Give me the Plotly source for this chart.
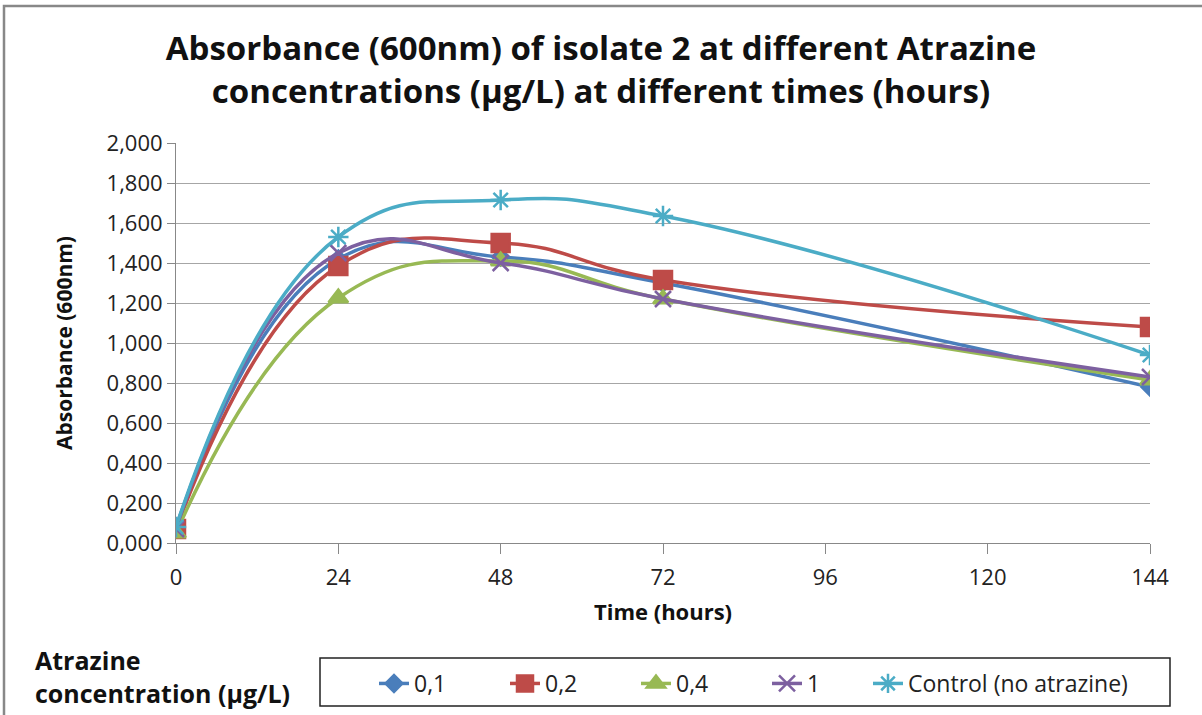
import plotly.graph_objects as go

hours = [0, 24, 48, 72, 144]
series_names = ["0,1", "0,2", "0,4", "1", "Control (no atrazine)"]
abs_01 = [0.08, 1.42, 1.43, 1.30, 0.78]
abs_02 = [0.07, 1.385, 1.50, 1.315, 1.08]
abs_04 = [0.05, 1.225, 1.41, 1.22, 0.815]
abs_1 = [0.07, 1.45, 1.40, 1.22, 0.83]
abs_ctrl = [0.08, 1.53, 1.715, 1.635, 0.94]
y_tickvals = [0, 0.2, 0.4, 0.6, 0.8, 1.0, 1.2, 1.4, 1.6, 1.8, 2.0]
y_ticktext = ["0,000", "0,200", "0,400", "0,600", "0,800", "1,000",
              "1,200", "1,400", "1,600", "1,800", "2,000"]
x_tickvals = [0, 24, 48, 72, 96, 120, 144]

colors = ["#4A7EBB", "#BE4B48", "#98B954", "#7D60A0", "#4BACC6"]
symbols = ["diamond", "square", "triangle-up", "x-thin", "asterisk"]
sizes = [13, 18, 17, 16, 17]
legends = ["legend", "legend", "legend", "legend", "legend2"]
data = [abs_01, abs_02, abs_04, abs_1, abs_ctrl]

FONT = "Open Sans"
W, H = 1202, 715
L, R, T, B = 176, 52, 143, 172
PW, PH = W - L - R, H - T - B


def px_x(px):
    return (px - L) / PW


def px_y(py):
    return (H - B - py) / PH


fig = go.Figure()
for name, ys, c, s, sz, lg in zip(series_names, data, colors, symbols, sizes, legends):
    fig.add_trace(go.Scatter(
        x=hours, y=ys, name=name, mode="lines+markers", legend=lg,
        line=dict(color=c, width=3.5, shape="spline", smoothing=1.3),
        marker=dict(symbol=s, size=sz, color=c, line=dict(color=c, width=2.5)),
    ))

legend_font = dict(family=FONT, size=23, color="#222222")
fig.update_layout(
    width=W, height=H,
    paper_bgcolor="white", plot_bgcolor="white",
    margin=dict(l=L, r=R, t=T, b=B, autoexpand=False),
    font=dict(family=FONT, color="#222222"),
    title=dict(
        text="<b>Absorbance (600nm) of isolate 2 at different Atrazine<br>concentrations (µg/L) at different times (hours)</b>",
        x=0.5, xanchor="center", y=1 - 60 / H, yanchor="middle",
        font=dict(family=FONT, size=33, color="#111111"),
    ),
    xaxis=dict(
        range=[0, 144], tickvals=x_tickvals, ticks="outside", ticklen=10,
        tickcolor="#888888", showline=True, linecolor="#888888", linewidth=1,
        showgrid=False, zeroline=False, ticklabelstandoff=5,
        tickfont=dict(family=FONT, size=22, color="#222222"),
        title=dict(text="<b>Time (hours)</b>", font=dict(family=FONT, size=22, color="#111111"), standoff=14),
    ),
    yaxis=dict(
        range=[0, 2.0], tickvals=y_tickvals, ticktext=y_ticktext,
        ticks="outside", ticklen=8, tickcolor="#888888",
        showline=True, linecolor="#888888", linewidth=1,
        showgrid=True, gridcolor="#A6A6A6", gridwidth=1, zeroline=False,
        tickfont=dict(family=FONT, size=22, color="#222222"),
        title=dict(text="<b>Absorbance (600nm)</b>", font=dict(family=FONT, size=21, color="#111111"), standoff=28),
    ),
    showlegend=True,
    legend=dict(
        orientation="h", x=px_x(374), y=px_y(662), xanchor="left", yanchor="top",
        borderwidth=0, bgcolor="rgba(0,0,0,0)", font=legend_font,
        entrywidth=86, entrywidthmode="pixels", tracegroupgap=0,
    ),
    legend2=dict(
        orientation="h", x=px_x(868), y=px_y(662), xanchor="left", yanchor="top",
        borderwidth=0, bgcolor="rgba(0,0,0,0)", font=legend_font,
    ),
)

# legend frame
fig.add_shape(type="rect", xref="paper", yref="paper",
              x0=px_x(320), x1=px_x(1170), y0=px_y(658), y1=px_y(706),
              line=dict(color="#222222", width=1.5), fillcolor="rgba(0,0,0,0)", layer="below")
# outer chart frame (left & top visible)
fig.add_shape(type="rect", xref="paper", yref="paper",
              x0=px_x(4), x1=px_x(1220), y0=px_y(730), y1=px_y(6),
              line=dict(color="#888888", width=2.5), fillcolor="rgba(0,0,0,0)", layer="below")

fig.add_annotation(
    xref="paper", yref="paper", x=px_x(33), y=px_y(641), xanchor="left", yanchor="top",
    text="<b>Atrazine<br>concentration (µg/L)</b>", showarrow=False, align="left",
    font=dict(family=FONT, size=25, color="#111111"),
)
fig.write_html("out.html")
